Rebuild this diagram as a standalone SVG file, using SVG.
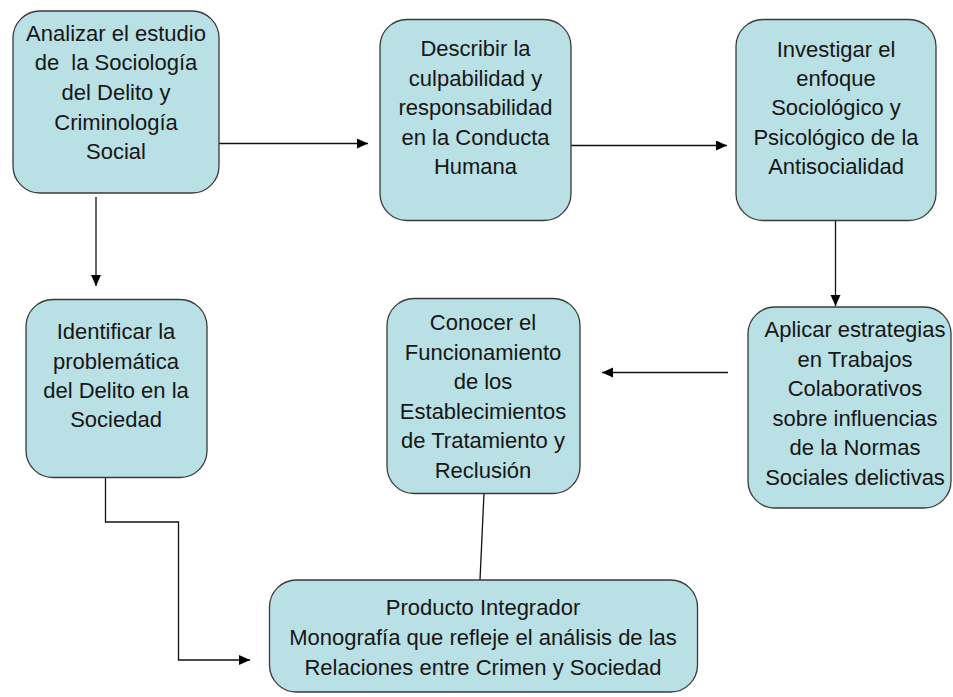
<svg xmlns="http://www.w3.org/2000/svg" width="953" height="697" viewBox="0 0 953 697">
<style>
.box{fill:#b9e0e4;stroke:#3a3a3a;stroke-width:1.3}
.t{font-family:"Liberation Sans",Arial,sans-serif;font-size:22px;fill:#161616;text-anchor:middle}
.c{fill:none;stroke:#111;stroke-width:1.3}
</style>
<defs>
<marker id="ah" markerUnits="userSpaceOnUse" markerWidth="12" markerHeight="11" refX="11" refY="5" orient="auto">
<path d="M0,0 L11,5 L0,10 z" fill="#000"/>
</marker>
</defs>
<rect width="953" height="697" fill="#fff"/>
<g id="connectors">
<path class="c" d="M207,143.5 H368" marker-end="url(#ah)"/>
<path class="c" d="M571,145.5 H727" marker-end="url(#ah)"/>
<path class="c" d="M835.5,220 V306" marker-end="url(#ah)"/>
<path class="c" d="M728,372.5 H602" marker-end="url(#ah)"/>
<path class="c" d="M96,197 V286" marker-end="url(#ah)"/>
<path class="c" d="M105.5,477 V522 H178.5 V660 H250" marker-end="url(#ah)"/>
<path class="c" d="M484,493 L480,580"/>
</g>
<g id="n1">
<rect class="box" x="13" y="11" width="206" height="182" rx="27"/>
<text class="t" x="116" y="40.7">Analizar el estudio</text>
<text class="t" x="116" y="70.3" xml:space="preserve">de  la Sociología</text>
<text class="t" x="116" y="99.9">del Delito y</text>
<text class="t" x="116" y="129.5">Criminología</text>
<text class="t" x="116" y="159.1">Social</text>
</g>
<g id="n2">
<rect class="box" x="380" y="19.5" width="191" height="201" rx="27"/>
<text class="t" x="475.5" y="56"><tspan x="475.5">Describir la</tspan><tspan x="475.5" dy="29.5">culpabilidad y</tspan><tspan x="475.5" dy="29.5">responsabilidad</tspan><tspan x="475.5" dy="29.5">en la Conducta</tspan><tspan x="475.5" dy="29.5">Humana</tspan></text>
</g>
<g id="n3">
<rect class="box" x="736" y="19.5" width="200" height="201" rx="27"/>
<text class="t" x="836" y="56.7"><tspan x="836">Investigar el</tspan><tspan x="836" dy="29.3">enfoque</tspan><tspan x="836" dy="29.3">Sociológico y</tspan><tspan x="836" dy="29.3">Psicológico de la</tspan><tspan x="836" dy="29.3">Antisocialidad</tspan></text>
</g>
<g id="n4">
<rect class="box" x="26" y="299.5" width="181" height="178" rx="27"/>
<text class="t" x="116" y="339.3"><tspan x="116">Identificar la</tspan><tspan x="116" dy="29.2">problemática</tspan><tspan x="116" dy="29.2">del Delito en la</tspan><tspan x="116" dy="29.2">Sociedad</tspan></text>
</g>
<g id="n5">
<rect class="box" x="387" y="298.5" width="193" height="195" rx="27"/>
<text class="t" x="483" y="330"><tspan x="483">Conocer el</tspan><tspan x="483" dy="29.5">Funcionamiento</tspan><tspan x="483" dy="29.5">de los</tspan><tspan x="483" dy="29.5">Establecimientos</tspan><tspan x="483" dy="29.5">de Tratamiento y</tspan><tspan x="483" dy="29.5">Reclusión</tspan></text>
</g>
<g id="n6">
<rect class="box" x="748" y="307" width="203" height="201" rx="27"/>
<text class="t" x="855" y="337.3"><tspan x="855">Aplicar estrategias</tspan><tspan x="855" dy="29.5">en Trabajos</tspan><tspan x="855" dy="29.5">Colaborativos</tspan><tspan x="855" dy="29.5">sobre influencias</tspan><tspan x="855" dy="29.5">de la Normas</tspan><tspan x="855" dy="29.5">Sociales delictivas</tspan></text>
</g>
<g id="n7">
<rect class="box" x="269.5" y="580" width="428" height="112" rx="27"/>
<text class="t" x="483" y="615"><tspan x="483">Producto Integrador</tspan><tspan x="483" dy="30">Monografía que refleje el análisis de las</tspan><tspan x="483" dy="30">Relaciones entre Crimen y Sociedad</tspan></text>
</g>
</svg>
